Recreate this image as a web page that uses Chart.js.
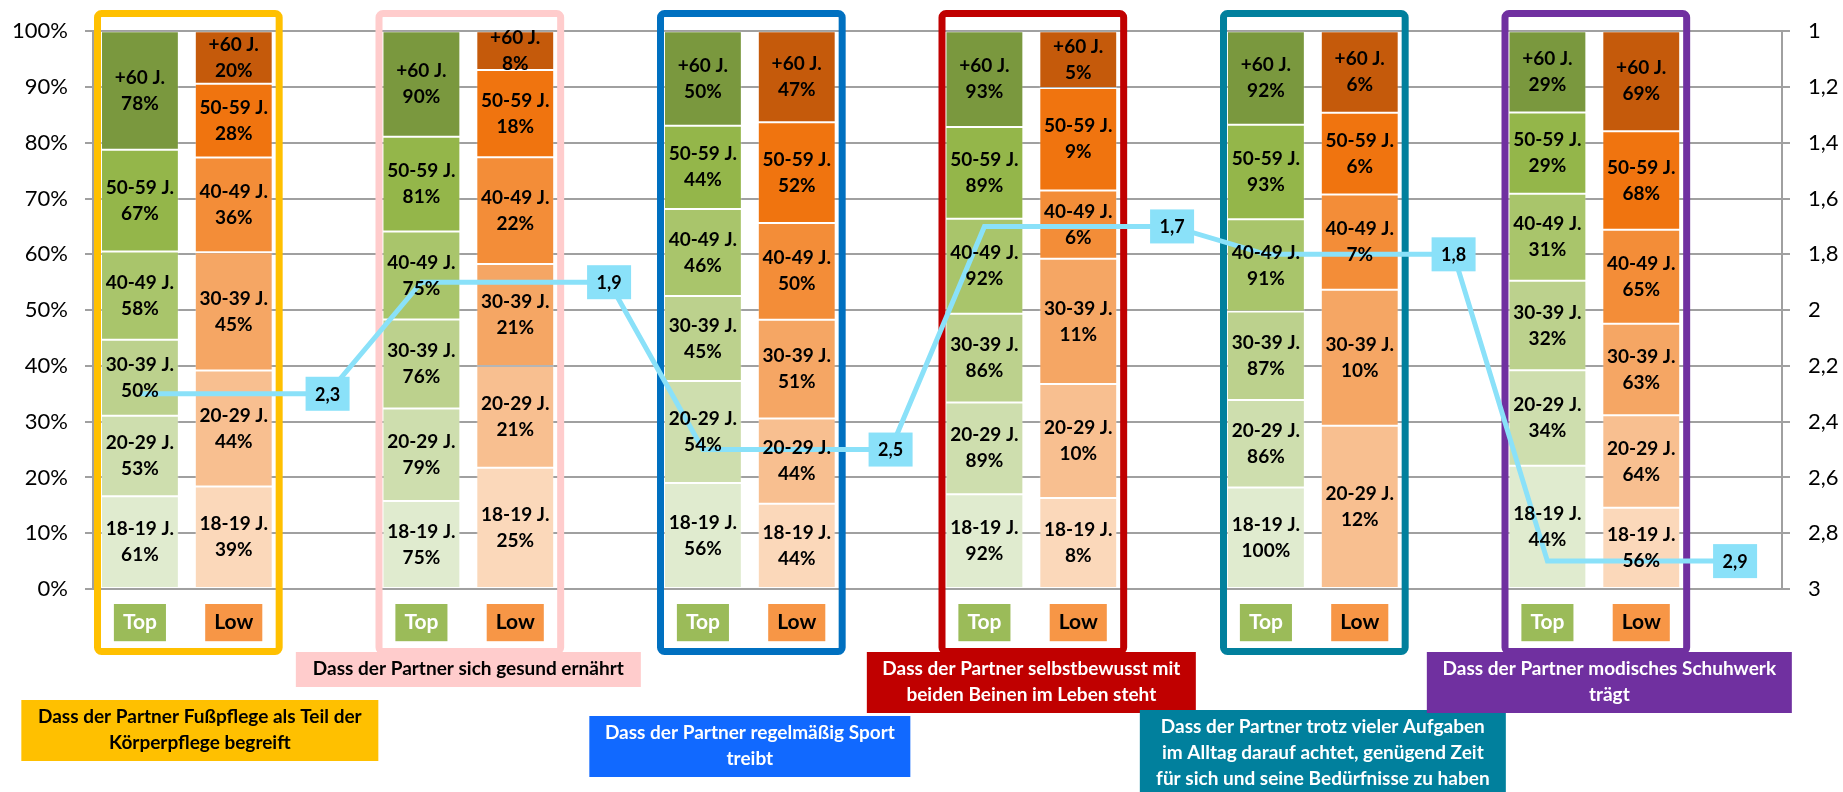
<!DOCTYPE html>
<html>
<head>
<meta charset="utf-8">
<script src="https://cdn.jsdelivr.net/npm/chart.js@4.4.1/dist/chart.umd.min.js"></script>
<style>
html,body{margin:0;padding:0;background:#fff;}
canvas{display:block;}
</style>
</head>
<body>
<canvas id="c" width="1843" height="792"></canvas>
<script>
// ---------- DATA ----------
const ageLabels = ['18-19 J.', '20-29 J.', '30-39 J.', '40-49 J.', '50-59 J.', '+60 J.'];
const kindLabels = ['Top', 'Low'];

// Top box (per topic)
const top_18_19 = [61, 75, 56, 92, 100, 44];
const top_20_29 = [53, 79, 54, 89, 86, 34];
const top_30_39 = [50, 76, 45, 86, 87, 32];
const top_40_49 = [58, 75, 46, 92, 91, 31];
const top_50_59 = [67, 81, 44, 89, 93, 29];
const top_60    = [78, 90, 50, 93, 92, 29];

// Low box (per topic)
const low_18_19 = [39, 25, 44, 8, 0, 56];
const low_20_29 = [44, 21, 44, 10, 12, 64];
const low_30_39 = [45, 21, 51, 11, 10, 63];
const low_40_49 = [36, 22, 50, 6, 7, 65];
const low_50_59 = [28, 18, 52, 9, 6, 68];
const low_60    = [20, 8, 47, 5, 6, 69];

// mean score (right axis, 1 = best)
const meanScores = [2.3, 1.9, 2.5, 1.7, 1.8, 2.9];

const topics = [
  ['Dass der Partner Fußpflege als Teil der', 'Körperpflege begreift'],
  ['Dass der Partner sich gesund ernährt'],
  ['Dass der Partner regelmäßig Sport', 'treibt'],
  ['Dass der Partner selbstbewusst mit', 'beiden Beinen im Leben steht'],
  ['Dass der Partner trotz vieler Aufgaben', 'im Alltag darauf achtet, genügend Zeit', 'für sich und seine Bedürfnisse zu haben'],
  ['Dass der Partner modisches Schuhwerk', 'trägt']
];

// ---------- STYLE ----------
const GREEN  = ['#E0EBCF', '#CEDEAE', '#BCD18D', '#A9C56B', '#94B64A', '#7A983E'];
const ORANGE = ['#FBD8BA', '#F8BF90', '#F5A664', '#F38D38', '#F0740F', '#C55A0B'];
const frameColors = ['#FFC000', '#FFCCCC', '#0070C0', '#C00000', '#01809D', '#7030A0'];
const boxColors   = ['#FFC000', '#FFCCCC', '#1169FF', '#C00000', '#01809D', '#7030A0'];
const boxText     = ['#000', '#000', '#fff', '#fff', '#fff', '#fff'];
// description box layout: [dx from group centre, width, top, height]
const boxLayout = [
  [13, 357, 700, 61],
  [0, 345, 652, 35],
  [0, 321, 716, 61],
  [0, 329, 652, 61],
  [10, 366, 710, 86],
  [15, 365, 652, 61]
];
const LINE_COLOR = '#8AE1F9';
const GRID = '#A0A0A0';
const FONT = 'Lato, "Open Sans", sans-serif';

Chart.defaults.font.family = FONT;
Chart.defaults.color = '#000';

// ---------- BUILD ----------
const topRows = [top_18_19, top_20_29, top_30_39, top_40_49, top_50_59, top_60];
const lowRows = [low_18_19, low_20_29, low_30_39, low_40_49, low_50_59, low_60];
const nGroups = meanScores.length;
const topSum = meanScores.map((_, g) => topRows.reduce((s, r) => s + r[g], 0));
const lowSum = meanScores.map((_, g) => lowRows.reduce((s, r) => s + r[g], 0));

const categories = [];
for (let g = 0; g < nGroups; g++) categories.push(kindLabels[0], kindLabels[1], '');

const barSets = ageLabels.map((lab, a) => {
  const data = [];
  for (let g = 0; g < nGroups; g++) {
    const tv = topRows[a][g], lv = lowRows[a][g];
    data.push(tv ? tv / topSum[g] * 100 : null, lv ? lv / lowSum[g] * 100 : null, null);
  }
  return {
    type: 'bar', label: lab, data,
    backgroundColor: ctx => ctx.dataIndex % 3 === 0 ? GREEN[a] : ORANGE[a],
    borderColor: 'rgba(255,255,255,0.22)', borderWidth: 1, borderSkipped: false,
    barPercentage: 0.83, categoryPercentage: 1,
    yAxisID: 'y', order: 1
  };
});

const lineData = [];
for (let g = 0; g < nGroups; g++) lineData.push(meanScores[g], null, meanScores[g]);
const lineSet = {
  type: 'line', label: 'Mittelwert', data: lineData, yAxisID: 'y2',
  borderColor: LINE_COLOR, borderWidth: 5, pointRadius: 0, pointHoverRadius: 0,
  spanGaps: true, tension: 0, order: 0, borderJoinStyle: 'miter', fill: false
};

function fmt(v) { return (Math.round(v * 10) / 10).toString().replace('.', ','); }

function rrect(ctx, x, y, w, h, r) {
  ctx.beginPath();
  ctx.moveTo(x + r, y);
  ctx.arcTo(x + w, y, x + w, y + h, r);
  ctx.arcTo(x + w, y + h, x, y + h, r);
  ctx.arcTo(x, y + h, x, y, r);
  ctx.arcTo(x, y, x + w, y, r);
  ctx.closePath();
}

const overlay = {
  id: 'overlay',
  beforeDatasetsDraw(chart) {
    const ctx = chart.ctx, xs = chart.scales.x;
    const cw = xs.getPixelForValue(1) - xs.getPixelForValue(0);
    ctx.save();
    for (let g = 0; g < nGroups; g++) {
      const left = xs.getPixelForValue(3 * g) - cw / 2 + 1;
      const right = xs.getPixelForValue(3 * g + 1) + cw / 2 + 2;
      const top = 10, bottom = 655, lw = 7;
      ctx.lineWidth = lw;
      ctx.strokeStyle = frameColors[g];
      rrect(ctx, left + lw / 2, top + lw / 2, right - left - lw, bottom - top - lw, 4);
      ctx.stroke();
    }
    ctx.restore();
  },
  afterDatasetsDraw(chart) {
    const ctx = chart.ctx;
    ctx.save();
    ctx.textAlign = 'center';
    ctx.textBaseline = 'middle';
    // bar labels
    ctx.font = 'bold 19px ' + FONT;
    ctx.fillStyle = '#000';
    for (let a = 0; a < ageLabels.length; a++) {
      const meta = chart.getDatasetMeta(a);
      meta.data.forEach((el, i) => {
        const kind = i % 3, g = Math.floor(i / 3);
        if (kind === 2) return;
        const raw = kind === 0 ? topRows[a][g] : lowRows[a][g];
        if (!raw) return;
        const p = el.getProps(['x', 'y', 'base'], true);
        const cy = (p.y + p.base) / 2;
        ctx.fillText(ageLabels[a], p.x, cy - 13);
        ctx.fillText(raw + '%', p.x, cy + 13);
      });
    }
    // line labels
    const lmeta = chart.getDatasetMeta(ageLabels.length);
    ctx.font = 'bold 18px ' + FONT;
    lmeta.data.forEach((el, i) => {
      if (i % 3 !== 2) return;
      const p = el.getProps(['x', 'y'], true);
      ctx.fillStyle = LINE_COLOR;
      ctx.fillRect(p.x - 22, p.y - 17, 44, 34);
      ctx.fillStyle = '#000';
      ctx.fillText(fmt(meanScores[Math.floor(i / 3)]), p.x, p.y + 1);
    });
    ctx.restore();
  },
  afterDraw(chart) {
    const ctx = chart.ctx, xs = chart.scales.x;
    ctx.save();
    ctx.textAlign = 'center';
    ctx.textBaseline = 'middle';
    ctx.font = 'bold 19px ' + FONT;
    for (let g = 0; g < nGroups; g++) {
      const c = (xs.getPixelForValue(3 * g) + xs.getPixelForValue(3 * g + 1)) / 2;
      const [dx, w, top, h] = boxLayout[g];
      const cx = c + dx;
      ctx.fillStyle = boxColors[g];
      ctx.fillRect(cx - w / 2, top, w, h);
      ctx.fillStyle = boxText[g];
      const lines = topics[g];
      const lh = 26;
      const cy = Math.min(top + h / 2, top + 4 + lines.length * lh / 2);
      lines.forEach((t, k) => {
        ctx.fillText(t, cx, cy + (k - (lines.length - 1) / 2) * lh);
      });
    }
    ctx.restore();
  }
};

new Chart(document.getElementById('c'), {
  data: { labels: categories, datasets: [...barSets, lineSet] },
  options: {
    responsive: false,
    animation: false,
    layout: { padding: { top: 27, left: 0, right: 0, bottom: 0 } },
    plugins: { legend: { display: false }, tooltip: { enabled: false } },
    scales: {
      x: {
        stacked: true,
        grid: { display: false, drawTicks: false },
        border: { display: false },
        ticks: {
          autoSkip: false, maxRotation: 0, minRotation: 0, padding: 21,
          font: { size: 21, weight: 'bold' },
          color: ctx => (ctx.tick && ctx.tick.label === 'Top') ? '#fff' : '#000',
          showLabelBackdrop: ctx => !!(ctx.tick && ctx.tick.label),
          backdropColor: ctx => (ctx.tick && ctx.tick.label === 'Top') ? '#9BBB59' : '#F79646',
          backdropPadding: { top: 6, bottom: 6, left: 9, right: 9 }
        },
        afterFit: s => { s.height = 203; }
      },
      y: {
        stacked: true, min: 0, max: 100,
        ticks: { stepSize: 10, padding: 17, font: { size: 22 }, callback: v => v + '%' },
        grid: { color: GRID, lineWidth: 2, tickLength: 8 },
        border: { display: true, color: GRID, width: 2 },
        afterFit: s => { s.width = 93; }
      },
      y2: {
        position: 'right', reverse: true, min: 1, max: 3,
        ticks: { stepSize: 0.2, padding: 18, font: { size: 22 }, callback: v => fmt(v) },
        grid: { drawOnChartArea: false, color: GRID, lineWidth: 2, tickLength: 8 },
        border: { display: true, color: GRID, width: 2 },
        afterFit: s => { s.width = 61; }
      }
    }
  },
  plugins: [overlay]
});
</script>
</body>
</html>
